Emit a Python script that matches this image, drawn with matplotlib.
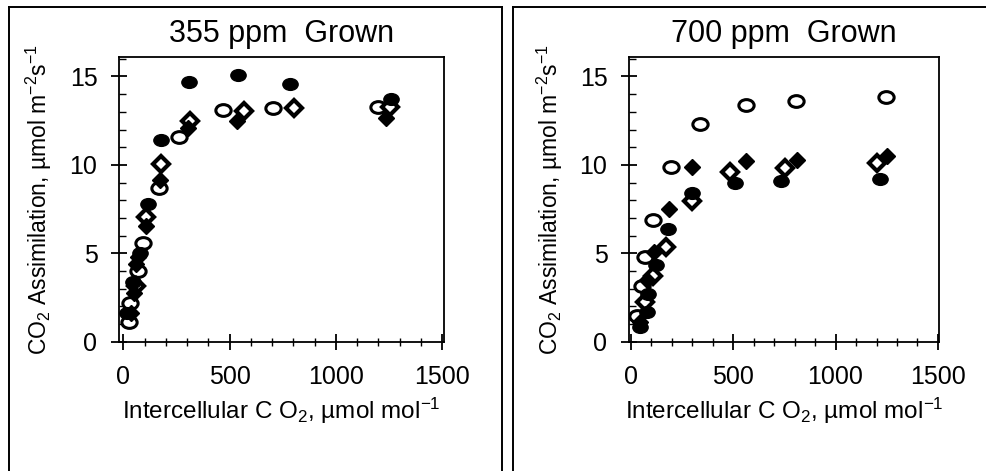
import numpy as np
import matplotlib
matplotlib.use("Agg")
import matplotlib.pyplot as plt
from matplotlib.path import Path
from matplotlib.transforms import Affine2D
from matplotlib.lines import Line2D
from matplotlib.ticker import MultipleLocator

plt.rcParams['font.family'] = ['Liberation Sans', 'DejaVu Sans']
plt.rcParams['mathtext.fontset'] = 'custom'
plt.rcParams['mathtext.rm'] = 'Liberation Sans'
plt.rcParams['mathtext.it'] = 'Liberation Sans'

# 355 ppm grown
a_open_circ_x = [27, 32, 71, 94, 168, 262, 470, 703, 1196]
a_open_circ_y = [1.1, 2.2, 4.0, 5.6, 8.7, 11.6, 13.1, 13.2, 13.3]
a_open_diam_x = [58, 105, 177, 314, 569, 803, 1252]
a_open_diam_y = [3.15, 7.05, 10.05, 12.5, 13.05, 13.2, 13.25]
a_fill_circ_x = [18, 47, 78, 118, 178, 310, 540, 784, 1260]
a_fill_circ_y = [1.6, 3.35, 5.0, 7.8, 11.4, 14.7, 15.1, 14.55, 13.7]
a_fill_diam_x = [36, 52, 62, 71, 105, 173, 306, 536, 1236]
a_fill_diam_y = [1.6, 2.75, 4.4, 4.8, 6.55, 9.15, 12.1, 12.5, 12.65]

# 700 ppm grown
b_open_circ_x = [31, 55, 70, 109, 198, 337, 562, 809, 1246]
b_open_circ_y = [1.45, 3.15, 4.8, 6.9, 9.9, 12.3, 13.4, 13.6, 13.85]
b_open_diam_x = [70, 109, 175, 298, 487, 753, 1201]
b_open_diam_y = [2.27, 3.7, 5.37, 7.94, 9.6, 9.84, 10.1]
b_fill_circ_x = [45, 78, 85, 125, 180, 300, 508, 735, 1218]
b_fill_circ_y = [0.85, 1.7, 2.72, 4.35, 6.35, 8.4, 9.0, 9.08, 9.2]
b_fill_diam_x = [45, 81, 114, 187, 300, 562, 813, 1250]
b_fill_diam_y = [1.1, 3.5, 5.08, 7.49, 9.88, 10.2, 10.25, 10.5]

titles = ["355 ppm  Grown", "700 ppm  Grown"]

# ellipse marker, a bit wider than tall
ellipse = Path.unit_circle().transformed(Affine2D().scale(1.3, 1.0))

fig = plt.figure(figsize=(9.86, 4.71), dpi=100)
ax1 = fig.add_axes([119/986, 129.3/471, 325/986, 284.7/471])
ax2 = fig.add_axes([629/986, 129.3/471, 310/986, 284.7/471])

panels = [
    (ax1, a_open_circ_x, a_open_circ_y, a_open_diam_x, a_open_diam_y,
     a_fill_circ_x, a_fill_circ_y, a_fill_diam_x, a_fill_diam_y, (-20, 1508), -0.2),
    (ax2, b_open_circ_x, b_open_circ_y, b_open_diam_x, b_open_diam_y,
     b_fill_circ_x, b_fill_circ_y, b_fill_diam_x, b_fill_diam_y, (-8, 1505), -0.205),
]

for i, (ax, ocx, ocy, odx, ody, fcx, fcy, fdx, fdy, xl, ylx) in enumerate(panels):
    ax.plot(ocx, ocy, ls='none', marker=ellipse, ms=11, mfc='white', mec='black', mew=2.2)
    ax.plot(odx, ody, ls='none', marker='D', ms=8, mfc='white', mec='black', mew=3)
    ax.plot(fcx, fcy, ls='none', marker=ellipse, ms=11, mfc='black', mec='black', mew=1)
    ax.plot(fdx, fdy, ls='none', marker='D', ms=8.5, mfc='black', mec='black', mew=1)

    ax.set_xlim(*xl)
    ax.set_ylim(0, 16.1)
    ax.set_xticks([0, 500, 1000, 1500])
    ax.set_yticks([0, 5, 10, 15])
    ax.xaxis.set_minor_locator(MultipleLocator(100))
    ax.yaxis.set_minor_locator(MultipleLocator(1))
    ax.tick_params(axis='both', which='major', direction='inout', length=11, width=1.3,
                   labelsize=18, colors='black')
    ax.tick_params(axis='y', which='major', pad=10)
    ax.tick_params(axis='x', which='major', pad=11)
    ax.tick_params(axis='y', which='minor', direction='in', length=5, width=1)
    ax.tick_params(axis='x', which='minor', direction='inout', length=6, width=1)
    for s in ax.spines.values():
        s.set_linewidth(1.3)

    ax.set_title(titles[i], fontsize=22, pad=11)
    ax.set_xlabel(r'Intercellular C O$_2$, µmol mol$^{-1}$', fontsize=17.5)
    ax.set_ylabel(r'CO$_2$ Assimilation, µmol m$^{-2}$s$^{-1}$', fontsize=16.5)
    ax.xaxis.set_label_coords(0.5, -0.19)
    ax.yaxis.set_label_coords(ylx, 0.5)

# panel frames
for x0, x1 in [(9/986, 502/986), (513/986, 1.2)]:
    top = 1 - 7/471
    fig.add_artist(Line2D([x0, x0], [-0.1, top], color='black', lw=1.4))
    fig.add_artist(Line2D([x0, x1], [top, top], color='black', lw=1.4))
    if x1 < 1:
        fig.add_artist(Line2D([x1, x1], [-0.1, top], color='black', lw=1.4))

fig.savefig("out.png", dpi=100)
